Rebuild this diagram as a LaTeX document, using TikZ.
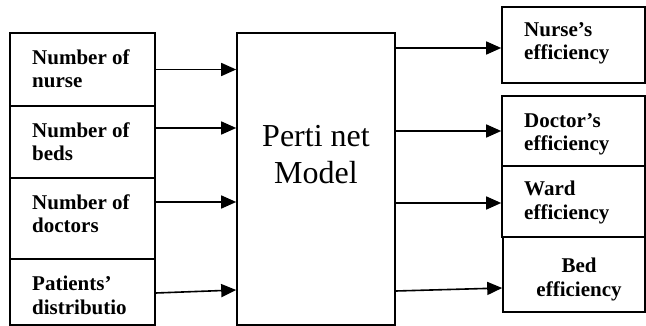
\documentclass[tikz,border=0pt]{standalone}
\usepackage{fontspec}
\setmainfont{Liberation Serif}
\usetikzlibrary{arrows.meta}
\tikzset{
  box/.style={draw, line width=1.6pt, inner sep=0pt, minimum width=#1},
  lbl/.style={inner sep=0pt, font=\bfseries\fontsize{21}{23.5}\selectfont, align=left},
  arr/.style={line width=1.6pt, -{Triangle[length=15pt,width=13pt]}}
}
\begin{document}
\begin{tikzpicture}[x=1pt,y=-1pt]
\useasboundingbox (0,0) rectangle (646,326);
% left boxes
\node[box=145pt, minimum height=73pt] (l1) at (82.5,69.5) {};
\node[box=145pt, minimum height=72pt] (l2) at (82.5,142) {};
\node[box=145pt, minimum height=81pt] (l3) at (82.5,218.5) {};
\node[box=145pt, minimum height=66pt] (l4) at (82.5,292) {};
\node[lbl, anchor=base west] (t1) at (32,88) {Number of\\nurse};
\node[lbl, anchor=base west] (t2) at (32,161) {Number of\\beds};
\node[lbl, anchor=base west] (t3) at (32,233) {Number of\\doctors};
\node[lbl, anchor=base west] (t4) at (32,314) {Patients’\\distributio};
% model
\node[box=158pt, minimum height=292pt] (m) at (316,179) {};
\node[inner sep=0pt, font=\fontsize{32}{37}\selectfont, align=center, anchor=base] (mt) at (316,184) {Perti net\\Model};
% right boxes
\node[box=143pt, minimum height=76pt] (r1) at (573.5,45) {};
\node[box=143pt, minimum height=70pt] (r2) at (573.5,131) {};
\node[box=143pt, minimum height=71pt] (r3) at (573.5,201.5) {};
\node[box=142pt, minimum height=75pt] (r4) at (574,274.5) {};
\node[lbl, anchor=base west] (u1) at (524,60) {Nurse’s\\efficiency};
\node[lbl, anchor=base west] (u2) at (524,151) {Doctor’s\\efficiency};
\node[lbl, anchor=base west] (u3) at (524,219) {Ward\\efficiency};
\node[lbl, anchor=base, align=center] (u4) at (579,296) {Bed\\efficiency};
% input arrows
\draw[arr] (l1.east) coordinate (a1) -- (a1 -| m.west);
\draw[arr] ([yshift=14pt]l2.east) coordinate (a2) -- (a2 -| m.west);
\draw[arr] ([yshift=16.5pt]l3.east) coordinate (a3) -- (a3 -| m.west);
\draw[arr] ([yshift=-1pt]l4.east) -- ([yshift=2pt]l4.east -| m.west);
% output arrows
\draw[arr] ([yshift=-3pt]r1.west -| m.east) -- ([yshift=-3pt]r1.west);
\draw[arr] (r2.west -| m.east) -- (r2.west);
\draw[arr] ([yshift=-1.5pt]r3.west -| m.east) -- ([yshift=-1.5pt]r3.west);
\draw[arr] ([yshift=-16.5pt]r4.west -| m.east) -- ([yshift=-13.5pt]r4.west);
\end{tikzpicture}
\end{document}
